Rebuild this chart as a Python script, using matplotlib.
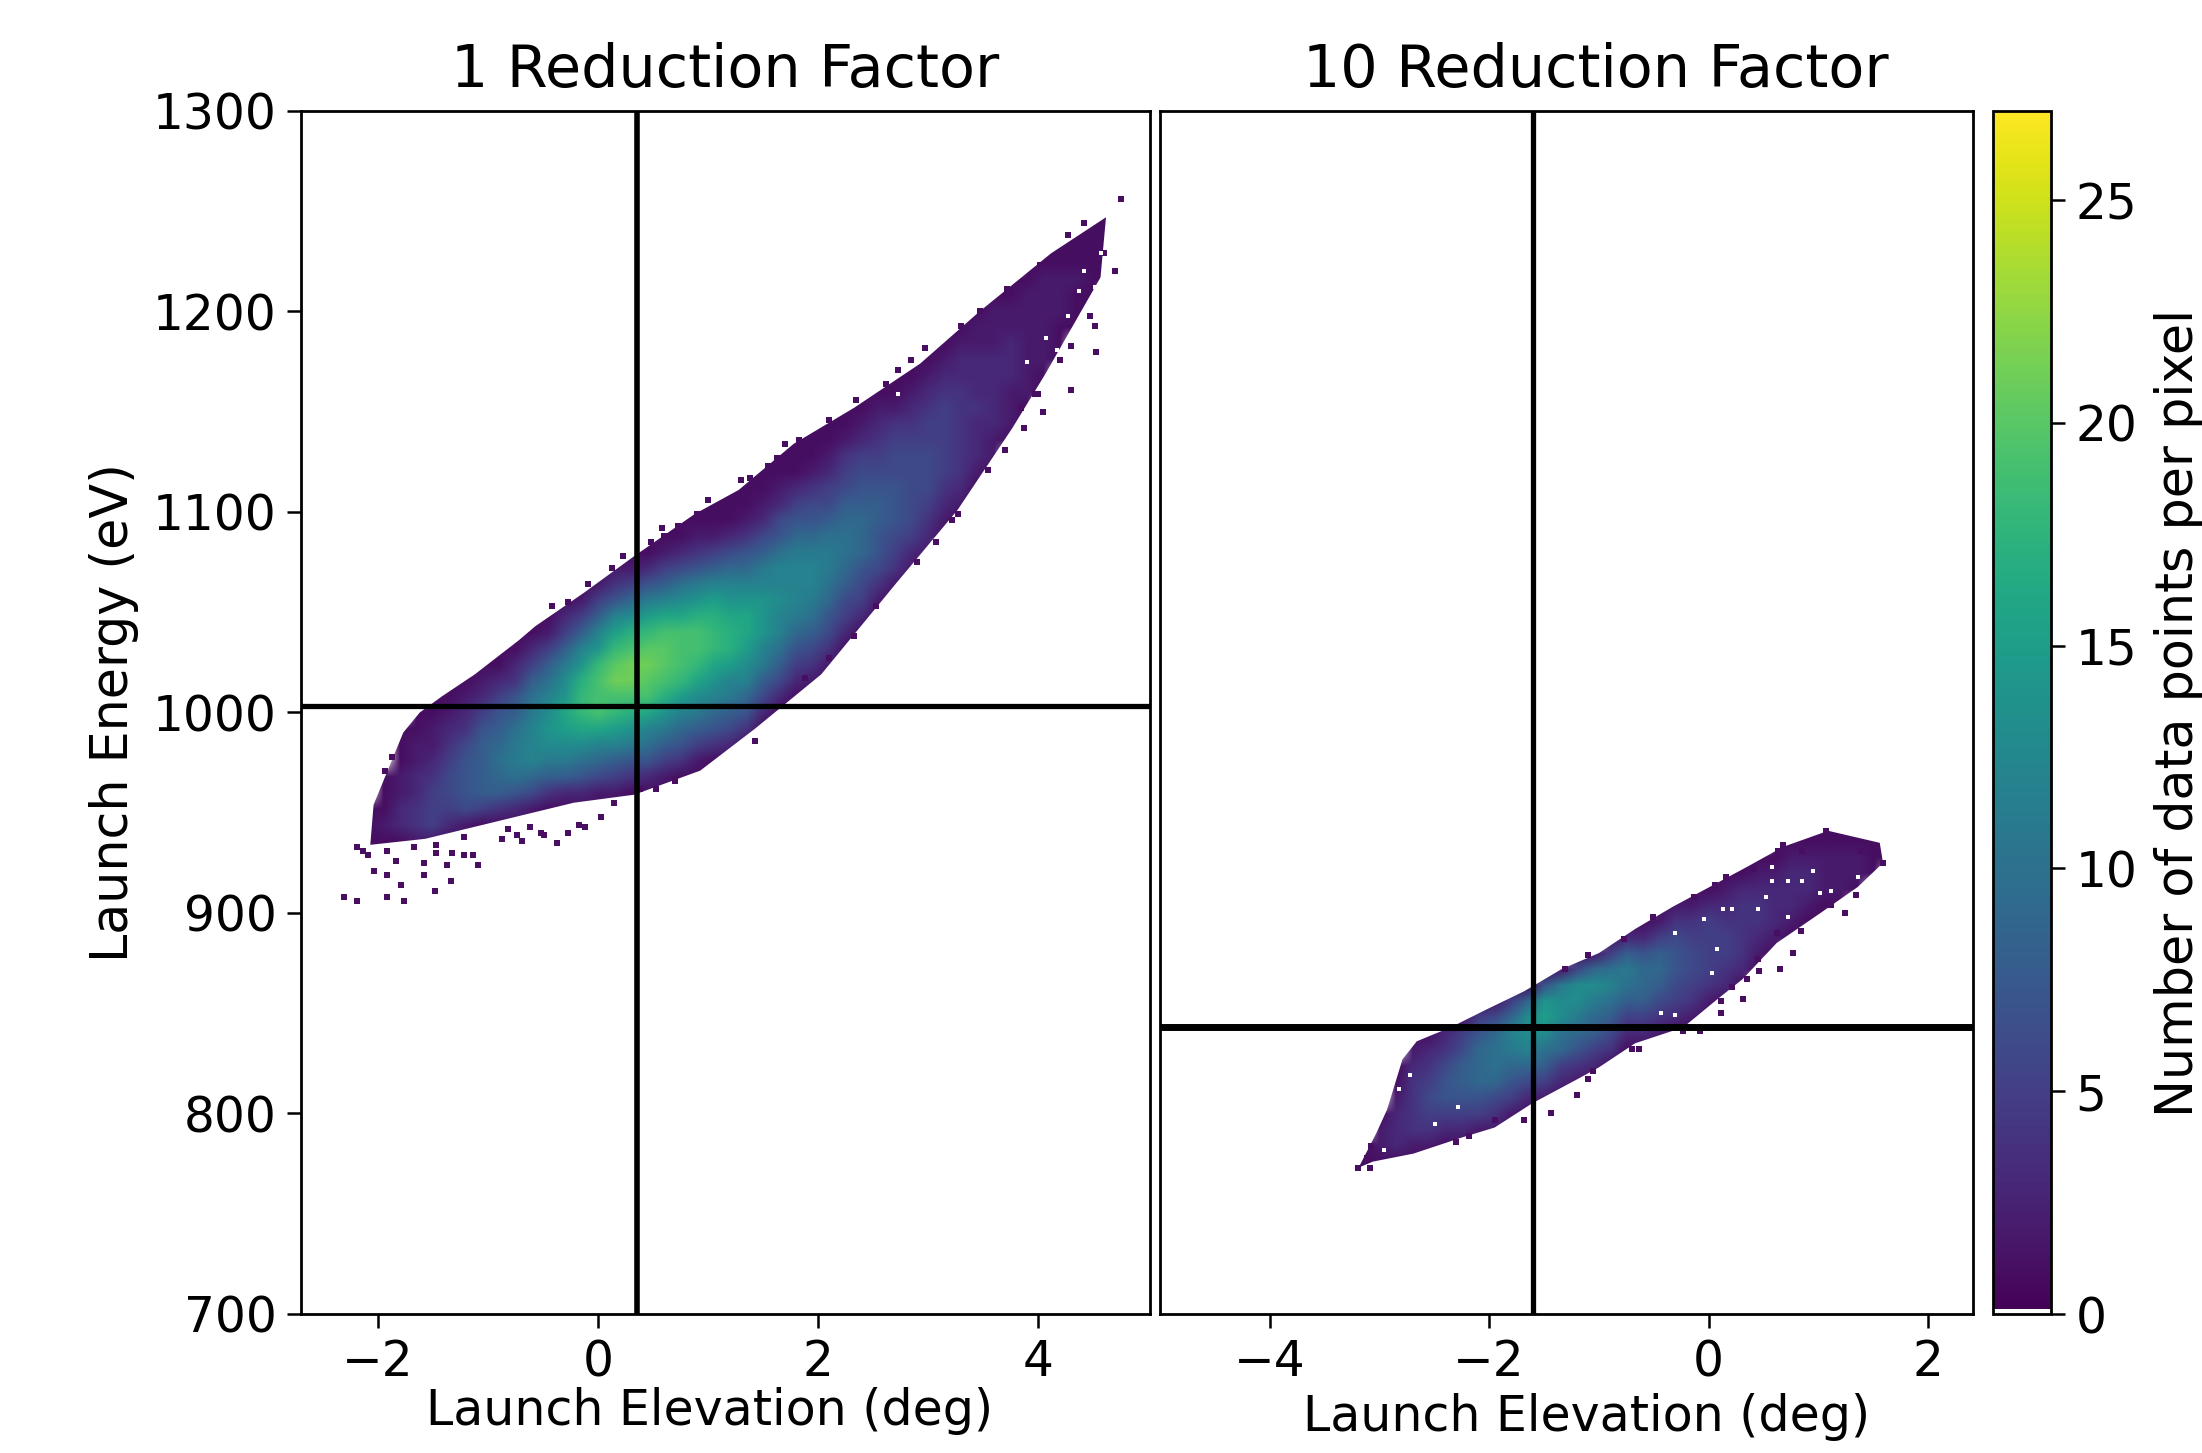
import matplotlib
matplotlib.use("Agg")
import matplotlib.pyplot as plt
import numpy as np
from matplotlib.colors import ListedColormap, Normalize
from matplotlib.cm import ScalarMappable
from matplotlib.patches import Polygon

W, H = 2202, 1453
BIN_E = 8

left_x = [-2.1 + 0.15 * i for i in range(46)]
left_start = [928, 928, 928, 928, 928, 936, 936, 936, 936, 936, 944, 944, 944, 952, 952, 952,
              952, 952, 960, 960, 960, 968, 976, 976, 984, 992, 1000, 1008, 1016, 1024, 1032,
              1040, 1056, 1064, 1072, 1088, 1096, 1104, 1120, 1136, 1144, 1160, 1176, 1192, 1200, 1216]
left_counts = [
    [1, 1, 1, 1], [1, 1, 2, 1, 1, 1], [1, 1, 3, 3, 2, 2, 1, 1, 1],
    [1, 2, 4, 4, 3, 3, 2, 2, 1, 1, 1], [1, 2, 5, 5, 5, 4, 3, 2, 2, 1, 1],
    [1, 3, 5, 6, 6, 5, 4, 3, 2, 1, 1], [1, 2, 6, 7, 7, 7, 6, 4, 3, 2, 1, 1],
    [1, 1, 5, 8, 8, 8, 8, 7, 5, 3, 2, 1, 1], [1, 1, 4, 8, 9, 10, 9, 8, 7, 5, 3, 1, 1],
    [1, 1, 3, 7, 10, 11, 11, 10, 8, 7, 4, 3, 1, 1], [1, 2, 6, 9, 12, 12, 12, 11, 10, 8, 5, 3, 1, 1],
    [1, 1, 4, 8, 11, 13, 14, 13, 12, 10, 8, 5, 2, 1, 1],
    [1, 1, 3, 8, 11, 13, 15, 16, 14, 13, 11, 8, 5, 3, 1, 1],
    [1, 3, 7, 10, 13, 16, 18, 18, 17, 14, 12, 8, 5, 2, 1],
    [1, 2, 6, 9, 12, 16, 19, 19, 19, 18, 14, 12, 8, 5, 2, 1],
    [1, 2, 5, 8, 12, 15, 18, 19, 21, 20, 18, 15, 12, 7, 4, 2, 1],
    [1, 1, 4, 7, 11, 14, 17, 19, 21, 21, 19, 17, 13, 9, 5, 2, 1],
    [1, 1, 3, 7, 10, 12, 16, 19, 20, 21, 20, 18, 15, 11, 7, 3, 1, 1],
    [1, 2, 5, 8, 11, 14, 17, 19, 20, 20, 19, 16, 12, 8, 5, 2, 1, 1],
    [1, 1, 4, 7, 9, 12, 15, 18, 19, 19, 19, 16, 13, 10, 6, 3, 1, 1, 1],
    [1, 1, 2, 5, 8, 11, 13, 16, 18, 19, 19, 17, 14, 11, 7, 4, 2, 1, 1],
    [1, 1, 4, 7, 9, 12, 14, 16, 18, 18, 17, 15, 12, 8, 5, 2, 1, 1, 1],
    [1, 3, 6, 8, 11, 12, 15, 17, 17, 16, 14, 12, 9, 6, 3, 1, 1, 1],
    [1, 1, 4, 7, 9, 12, 13, 15, 16, 16, 14, 12, 9, 7, 4, 2, 1, 1, 1],
    [1, 1, 3, 6, 8, 11, 12, 14, 14, 14, 12, 11, 8, 6, 3, 2, 1, 1, 1],
    [1, 1, 3, 6, 8, 10, 12, 12, 13, 12, 12, 10, 7, 6, 3, 2, 1, 1, 1],
    [1, 1, 3, 5, 7, 9, 11, 12, 12, 12, 11, 9, 7, 5, 3, 1, 1, 1, 1],
    [1, 2, 4, 6, 8, 10, 11, 12, 12, 11, 9, 7, 6, 4, 2, 1, 1, 1],
    [1, 2, 4, 6, 7, 9, 10, 11, 11, 10, 8, 6, 5, 3, 2, 1, 1, 1],
    [1, 1, 3, 5, 6, 8, 9, 10, 10, 9, 8, 6, 5, 4, 2, 1, 1, 1],
    [1, 1, 3, 5, 6, 7, 9, 9, 9, 8, 7, 6, 5, 3, 2, 1, 1],
    [1, 1, 2, 4, 6, 7, 7, 8, 8, 7, 6, 5, 4, 3, 2, 1, 1],
    [1, 2, 4, 5, 6, 7, 7, 7, 6, 6, 5, 4, 2, 1, 1, 1],
    [1, 2, 3, 5, 6, 6, 6, 6, 6, 5, 4, 3, 2, 1, 1],
    [1, 2, 3, 4, 5, 6, 6, 6, 5, 5, 4, 3, 2, 1, 1],
    [1, 2, 3, 4, 5, 5, 5, 5, 5, 4, 3, 2, 1, 1],
    [1, 2, 3, 4, 4, 4, 4, 4, 4, 3, 3, 2, 1, 1],
    [1, 1, 2, 3, 3, 3, 4, 3, 3, 3, 2, 2, 1, 1],
    [1, 2, 2, 3, 3, 3, 3, 3, 2, 2, 2, 1, 1],
    [1, 2, 2, 2, 3, 3, 3, 2, 2, 1, 1],
    [1, 1, 2, 2, 2, 2, 2, 2, 2, 1, 1],
    [1, 1, 2, 2, 2, 2, 2, 2, 1, 1],
    [1, 1, 1, 2, 2, 2, 1, 1, 1],
    [1, 1, 1, 2, 1, 1, 1],
    [1, 1, 1, 1, 1, 1, 1],
    [1, 1, 1, 1, 1, 1],
]
# outline of the solid part of the cloud
left_upper_x = [-2.07, -2.04, -1.77, -1.62, -1.42, -1.12, -0.72, -0.57, -0.12, 0.33, 0.88, 1.28,
                1.78, 2.33, 2.93, 3.47, 4.12, 4.62]
left_upper_e = [934, 954, 990, 1000, 1008, 1019, 1036, 1043, 1060, 1078, 1099, 1111,
                1134, 1152, 1174, 1200, 1229, 1247]
left_lower_x = [4.57, 4.07, 3.77, 3.27, 2.72, 2.03, 1.43, 0.93, 0.33, -0.22, -0.82, -1.57]
left_lower_e = [1217, 1169, 1142, 1101, 1065, 1019, 992, 971, 959, 955, 947, 937]
# single isolated bins outside the outline
left_stray_x = [-2.31, -2.19, -1.92, -1.76, -1.48, -1.34, -1.79, -1.92, -2.04, -1.58, -1.58, -1.37,
                -1.09, -1.84, -1.47, -1.33, -1.22, -1.14, -2.14, -0.87, -0.69, -0.37, -0.52, -0.12,
                0.03, 0.53, 0.70, 1.43, 4.30, 4.53, 4.76, 4.05, 4.70, 4.60, 4.52, 3.97, 3.85, 3.27,
                3.07, 2.90, 2.73, 2.97, 1.83, 1.38, 1.00, 0.58, -0.42, 3.47,
                -0.27, -0.09, 0.13, 0.23, 0.48, 0.60, 0.73, 0.90, 1.30, 1.55, 1.63, 1.70, 2.10, 2.35,
                2.62, 2.85, 3.30, 3.72, 4.02, 4.27, 4.42, 3.22, 3.55, 3.70, 3.87, 4.00, 4.20, 4.30,
                4.47, 2.53, 2.33, 2.10, 1.88, -0.82, -0.74, -0.62, -0.49, -0.27, -0.17, 0.15, 0.38,
                -1.92, -1.67, -1.47, -1.22, -2.19, -2.09, -1.94, -1.87]
left_stray_e = [908, 906, 908, 906, 911, 916, 914, 919, 921, 919, 925, 924,
                924, 926, 930, 930, 929, 929, 931, 937, 936, 935, 940, 943,
                948, 962, 966, 986, 1161, 1180, 1256, 1150, 1220, 1229, 1193, 1159, 1152, 1099,
                1085, 1075, 1171, 1182, 1136, 1117, 1106, 1092, 1053, 1200,
                1055, 1064, 1072, 1078, 1085, 1088, 1093, 1099, 1116, 1123, 1127, 1134, 1146, 1156,
                1164, 1176, 1193, 1211, 1223, 1238, 1244, 1096, 1121, 1131, 1142, 1159, 1176, 1183,
                1198, 1053, 1038, 1027, 1017, 942, 939, 943, 939, 940, 944, 955, 962,
                931, 933, 934, 938, 933, 929, 971, 978]
left_hole_x = [4.37, 4.52, 4.27, 4.17, 4.47, 4.57, 4.42, 4.07, 3.90, 2.73]
left_hole_e = [1210, 1212, 1198, 1181, 1193, 1229, 1220, 1187, 1175, 1159]

# right panel
right_x = [-3.15 + 0.15 * i for i in range(33)]
right_start = [768, 768, 776, 776, 776, 776, 784, 784, 784, 792, 800, 800, 808, 808, 816, 816, 824,
               832, 832, 840, 840, 848, 856, 864, 872, 880, 888, 888, 896, 904, 912, 920, 928]
right_counts = [
    [1, 1, 1], [1, 1, 2, 2, 1], [1, 3, 3, 3, 2, 1, 1], [1, 2, 4, 4, 4, 4, 3, 2, 1],
    [1, 2, 4, 5, 6, 5, 4, 3, 1], [1, 1, 3, 5, 7, 7, 6, 4, 3, 1], [1, 3, 5, 7, 8, 8, 6, 5, 1],
    [1, 2, 5, 7, 9, 9, 9, 7, 5, 1], [1, 2, 4, 6, 9, 10, 10, 9, 6, 2],
    [1, 2, 5, 7, 9, 11, 12, 9, 5, 1], [1, 3, 6, 9, 12, 13, 13, 9, 1],
    [1, 2, 5, 8, 10, 13, 15, 14, 7, 1], [1, 3, 5, 9, 10, 13, 13, 11, 2],
    [1, 2, 4, 7, 9, 11, 13, 13, 6, 1], [1, 3, 5, 8, 9, 11, 13, 9, 2],
    [1, 1, 4, 6, 8, 10, 12, 10, 5, 1], [1, 1, 3, 5, 8, 10, 11, 8, 3, 1],
    [1, 3, 5, 8, 9, 9, 7, 3, 1], [1, 2, 4, 6, 8, 9, 8, 5, 2, 1],
    [1, 3, 5, 6, 7, 7, 6, 4, 2, 1], [1, 2, 4, 5, 6, 6, 5, 4, 2, 1],
    [1, 2, 4, 5, 5, 5, 5, 3, 1, 1], [1, 3, 4, 5, 5, 4, 3, 2, 1], [1, 3, 4, 4, 4, 4, 3, 1, 1],
    [1, 2, 3, 4, 4, 3, 2, 1], [1, 2, 3, 3, 3, 2, 1, 1], [1, 2, 3, 3, 3, 2, 1, 1],
    [1, 1, 2, 3, 3, 2, 1, 1], [1, 1, 2, 2, 2, 1, 1], [1, 2, 2, 2, 1, 1], [1, 2, 2, 1, 1],
    [1, 1, 1, 1], [1, 1, 1],
]
right_upper_x = [-3.19, -3.03, -2.93, -2.79, -2.66, -2.35, -2.02, -1.68, -1.34, -1.0, -0.67, -0.33,
                 0.01, 0.35, 0.68, 1.09, 1.56]
right_upper_e = [773, 790, 802, 827, 836, 843, 852, 861, 872, 880, 892, 903,
                 913, 923, 933, 941, 935]
right_lower_x = [1.59, 1.36, 1.02, 0.62, 0.31, 0.08, -0.23, -0.67, -1.0, -1.2, -1.61, -1.95, -2.25, -2.69, -3.06]
right_lower_e = [925, 913, 900, 885, 867, 857, 843, 835, 823, 817, 805, 793, 788, 780, 776]
right_stray_x = [1.24, 0.77, 0.65, 0.46, 0.35, 0.31, 0.11, 0.11, -0.08, -0.23, -0.63, -0.70, -1.05,
                 -1.10, -1.20, -1.44, -1.68, -1.95, -2.18, -2.30, -3.08, -3.11, -3.195, -3.09, 1.07,
                 1.00, 1.12, 0.85, 0.63, 0.57, 1.38, 1.49, 1.59,
                 -0.51, -0.77, -1.10, -1.31, -0.13, 0.06, 0.16, 0.41, 0.68, 1.12, 1.34, 0.84, 0.62, 0.45, 0.21]
right_stray_e = [900, 880, 872, 871, 867, 857, 850, 856, 841, 841, 832, 832, 821,
                 817, 809, 800, 797, 797, 789, 786, 784, 778, 773, 773, 941,
                 937, 935, 931, 931, 927, 931, 930, 925,
                 898, 887, 879, 872, 908, 914, 918, 922, 934, 904, 909, 891, 890, 877, 863]
# empty bins inside the sparse cloud
right_hole_x = [-2.72, -2.82, -2.28, -2.49, -2.96, -0.04, -0.31, 0.13, 0.21, 0.08, 0.03, 0.45, 0.72,
                -0.43, -0.31, 0.72, 0.58, 0.52, 1.02, 0.58, 0.95, 1.36, 0.85, 1.12]
right_hole_e = [819, 812, 803, 795, 782, 897, 890, 902, 902, 882, 870, 902, 898,
                850, 849, 916, 916, 908, 910, 923, 921, 918, 916, 911]

left_vline, left_hline = 0.355, 1003
right_vline, right_hline = -1.60, 843

y_ticks = [700, 800, 900, 1000, 1100, 1200, 1300]
left_ticks = [-2, 0, 2, 4]
right_ticks = [-4, -2, 0, 2]
cbar_ticks = [0, 5, 10, 15, 20, 25]

colors = plt.cm.viridis(np.linspace(0, 1, 256))
colors[0] = (1, 1, 1, 1)
cmap = ListedColormap(colors)
norm = Normalize(0, 27)
PURPLE = cmap(norm(1))


def rect(x0, x1, y0, y1):
    return [x0 / W, 1 - y1 / H, (x1 - x0) / W, (y1 - y0) / H]


def draw_cloud(ax, xs, starts, counts, upper, lower, stray, holes):
    e_min = min(starts)
    e_max = max(s + BIN_E * (len(c) - 1) for s, c in zip(starts, counts))
    grid = np.zeros((int((e_max - e_min) / BIN_E) + 1, len(xs)))
    for i, (s, c) in enumerate(zip(starts, counts)):
        k = int((s - e_min) / BIN_E)
        grid[k:k + len(c), i] = c
    dx = xs[1] - xs[0]
    im = ax.imshow(grid, origin='lower', aspect='auto', cmap=cmap, norm=norm,
                   interpolation='bilinear', interpolation_stage='rgba',
                   extent=[xs[0] - dx / 2, xs[-1] + dx / 2, e_min - BIN_E / 2, e_max + BIN_E / 2])
    outline = Polygon(list(zip(*upper)) + list(zip(*lower)), closed=True, transform=ax.transData)
    im.set_clip_path(outline)
    ax.scatter(stray[0], stray[1], s=14, marker='s', color=PURPLE, linewidths=0, zorder=2)
    ax.scatter(holes[0], holes[1], s=10, marker='s', color='white', linewidths=0, zorder=2)


fig = plt.figure(figsize=(W / 100, H / 100), dpi=100)
ax1 = fig.add_axes(rect(301, 1150, 111, 1314))
ax2 = fig.add_axes(rect(1160, 1973, 111, 1314))
cax = fig.add_axes(rect(1993, 2051, 111, 1314))

draw_cloud(ax1, left_x, left_start, left_counts, (left_upper_x, left_upper_e),
           (left_lower_x, left_lower_e), (left_stray_x, left_stray_e), (left_hole_x, left_hole_e))
draw_cloud(ax2, right_x, right_start, right_counts, (right_upper_x, right_upper_e),
           (right_lower_x, right_lower_e), (right_stray_x, right_stray_e), (right_hole_x, right_hole_e))

ax1.axvline(left_vline, color='k', lw=4, zorder=3)
ax1.axhline(left_hline, color='k', lw=3.8, zorder=3)
ax2.axvline(right_vline, color='k', lw=3.8, zorder=3)
ax2.axhline(right_hline, color='k', lw=5, zorder=3)

ax1.set_xlim(-2.70, 5.02)
ax2.set_xlim(-5.0, 2.41)
ax1.set_ylim(700, 1300)
ax2.set_ylim(700, 1300)
ax1.set_yticks(y_ticks)
ax2.set_yticks([])
ax1.set_xticks(left_ticks)
ax2.set_xticks(right_ticks)

cb = fig.colorbar(ScalarMappable(norm=norm, cmap=cmap), cax=cax)
cb.set_ticks(cbar_ticks)
cb.set_label('Number of data points per pixel', fontsize=36.5, labelpad=12)
cb.outline.set_linewidth(2)

for ax in (ax1, ax2, cax):
    ax.tick_params(labelsize=35, length=10, width=1.8, pad=7.5)
    for sp in ax.spines.values():
        sp.set_linewidth(2)

ax1.set_ylabel('Launch Energy (eV)', fontsize=36.5, labelpad=10)
ax1.set_xlabel('Launch Elevation (deg)', fontsize=35.3, labelpad=0)
ax2.set_xlabel('Launch Elevation (deg)', fontsize=35.3, labelpad=0)
ax1.xaxis.set_label_coords(0.481, -0.0605)
ax2.xaxis.set_label_coords(0.525, -0.066)
ax1.set_title('1 Reduction Factor', fontsize=42.3, pad=17)
ax2.set_title('10 Reduction Factor', fontsize=42.3, pad=17, x=0.536)

fig.savefig('out.png', dpi=100)
